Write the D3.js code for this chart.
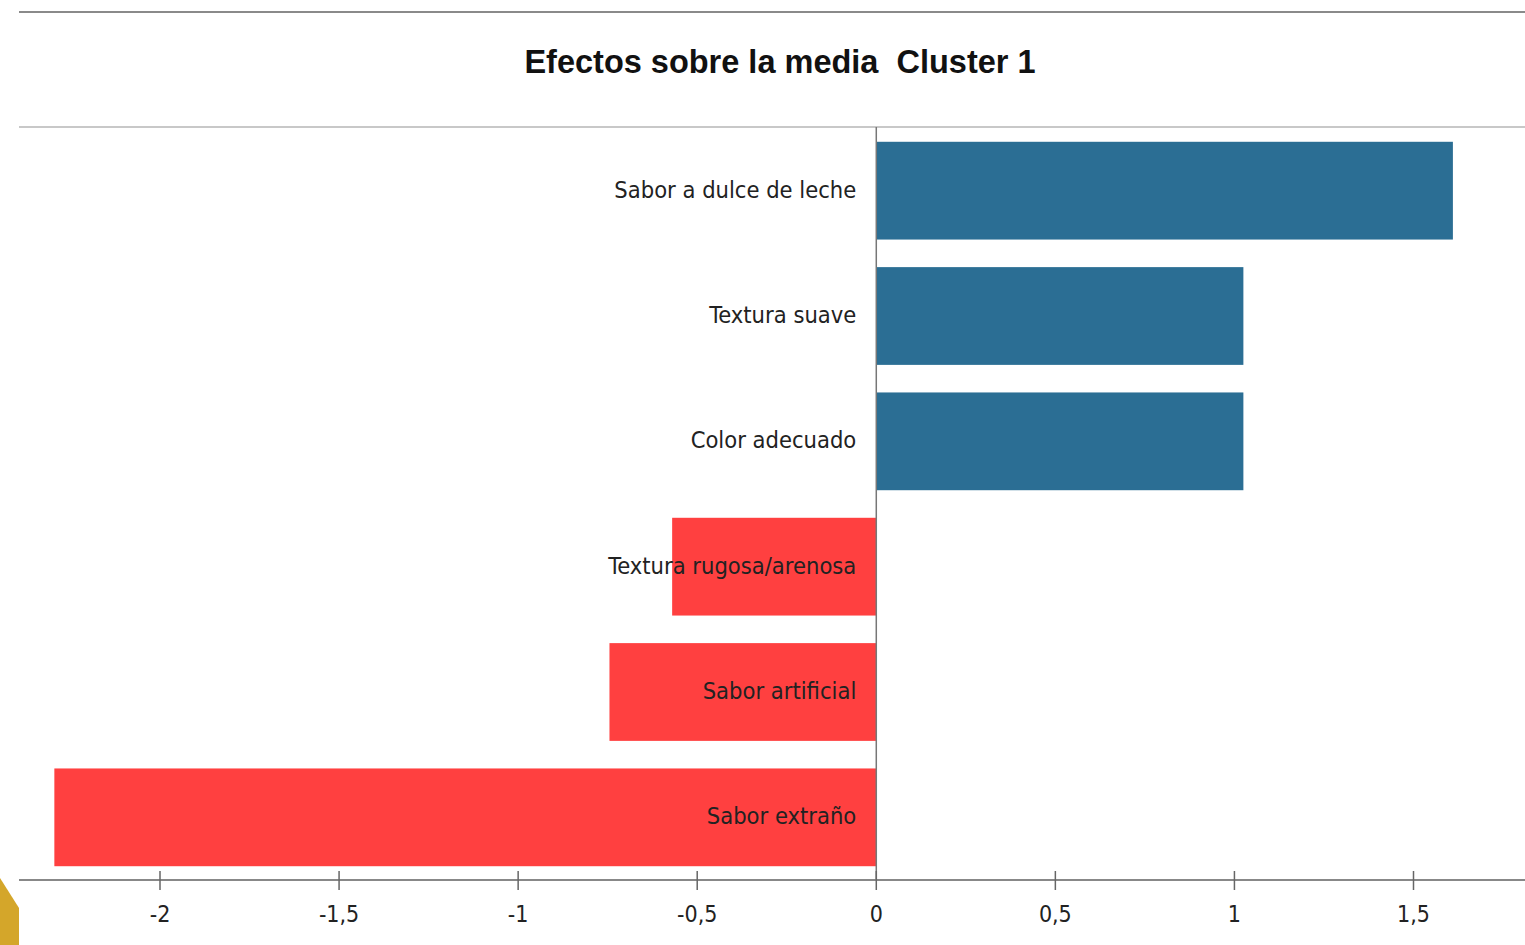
<!DOCTYPE html>
<html>
<head>
<meta charset="utf-8">
<script src="https://cdn.jsdelivr.net/npm/d3@7"></script>
<style>
  body { margin: 0; background: #fff; }
  svg { display: block; }
</style>
</head>
<body>
<div id="chart"></div>
<script>
// categories, top to bottom
const categories = ["Sabor a dulce de leche", "Textura suave", "Color adecuado",
    "Textura rugosa/arenosa", "Sabor artificial", "Sabor extraño"];
const effects = [1.61, 1.025, 1.025, -0.57, -0.745, -2.295];
const xTicks = [-2, -1.5, -1, -0.5, 0, 0.5, 1, 1.5];
const title = "Efectos sobre la media\u00a0 Cluster 1";

const W = 1525, H = 945;
const svg = d3.select("#chart").append("svg")
    .attr("width", W)
    .attr("height", H);

//scales
let x = d3.scaleLinear().domain([-2, 1.5]).range([160, 1413.5]);
let y = d3.scaleBand().domain(categories).range([128, 880]).paddingInner(0.22).paddingOuter(0.11);

//frame lines
svg.append("line").attr("x1", 19).attr("x2", W).attr("y1", 12).attr("y2", 12)
    .style("stroke", "#8a8a8a").style("stroke-width", 2);
svg.append("line").attr("x1", 19).attr("x2", W).attr("y1", 127).attr("y2", 127)
    .style("stroke", "#c8c8c8").style("stroke-width", 2);

//title
svg.append("text")
    .attr("x", 780).attr("y", 73)
    .text(title)
    .style("font-family", "Liberation Sans, Arial, sans-serif")
    .style("font-weight", "bold")
    .style("font-size", "32.5px")
    .style("fill", "#111")
    .style("text-anchor", "middle");

//bars
svg.selectAll(".bar").data(categories)
    .enter()
    .append("rect")
    .attr("class", "bar")
    .attr("x", (d, i) => x(Math.min(0, effects[i])))
    .attr("y", d => y(d))
    .attr("width", (d, i) => Math.abs(x(effects[i]) - x(0)))
    .attr("height", y.bandwidth())
    .style("fill", (d, i) => effects[i] >= 0 ? "#2b6e94" : "#ff4040");

//zero line
svg.append("line").attr("x1", x(0)).attr("x2", x(0)).attr("y1", 127).attr("y2", 880)
    .style("stroke", "#777").style("stroke-width", 1.5);

//category labels
svg.selectAll(".lbl").data(categories)
    .enter()
    .append("text")
    .attr("class", "lbl")
    .attr("x", x(0) - 20)
    .attr("y", d => y(d) + y.bandwidth() / 2)
    .attr("dy", "0.3em")
    .text(d => d)
    .style("font-family", "Liberation Sans Narrow, DejaVu Sans Condensed, sans-serif")
    .style("font-size", "23.5px")
    .style("fill", "#222")
    .style("text-anchor", "end");

//x axis
let axis = svg.append("g")
    .attr("transform", "translate(0,880)");
axis.append("line").attr("x1", 19).attr("x2", W).attr("y1", 0).attr("y2", 0)
    .style("stroke", "#888").style("stroke-width", 2);
axis.selectAll(".tick").data(xTicks)
    .enter()
    .append("line")
    .attr("x1", d => x(d)).attr("x2", d => x(d))
    .attr("y1", -9).attr("y2", 10)
    .style("stroke", "#666").style("stroke-width", 1.5);
axis.selectAll(".tickLbl").data(xTicks)
    .enter()
    .append("text")
    .attr("x", d => x(d))
    .attr("y", 42)
    .text(d => String(d).replace(".", ","))
    .style("font-family", "Liberation Sans Narrow, DejaVu Sans Condensed, sans-serif")
    .style("font-size", "23px")
    .style("fill", "#222")
    .style("text-anchor", "middle");

//gold corner
svg.append("path")
    .attr("d", "M0,878 L19,908 L19," + H + " L0," + H + " Z")
    .style("fill", "#d4a62a");
</script>
</body>
</html>
